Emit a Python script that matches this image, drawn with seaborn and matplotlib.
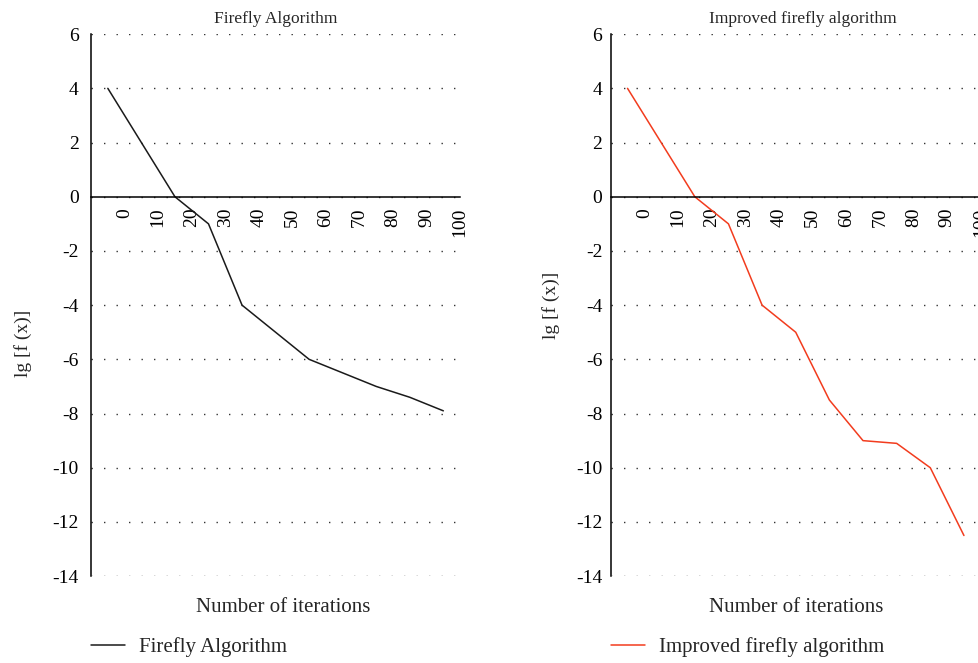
import matplotlib
matplotlib.use("Agg")
import matplotlib.pyplot as plt
import pandas as pd
import seaborn as sns

# convergence curves (x = plotted iteration position)
fa_iter = [-5, 15, 25, 35, 55, 75, 85, 95]
fa_value = [4, 0, -1, -4, -6, -7, -7.4, -7.9]

ifa_iter = [-5, 15, 25, 35, 45, 55, 65, 75, 85, 95]
ifa_value = [4, 0, -1, -4, -5, -7.5, -9, -9.1, -10, -12.5]

x_ticks = list(range(0, 101, 10))
y_ticks = list(range(-14, 7, 2))

sns.set_style("white")
plt.rcParams["font.family"] = ["Liberation Serif", "DejaVu Serif"]
plt.rcParams["axes.unicode_minus"] = False


def draw_panel(ax, x, y, color, name, ytick_pad, ylabel_pos, xlabel_x, title_x):
    df = pd.DataFrame({"iter": x, "value": y})
    sns.lineplot(data=df, x="iter", y="value", color=color, lw=1.1,
                 label=name, ax=ax)

    ax.set_xlim(-10, 100)
    ax.set_ylim(-14, 6)
    ax.set_xticks(x_ticks)
    ax.set_yticks(y_ticks)

    ax.spines["top"].set_visible(False)
    ax.spines["right"].set_visible(False)
    ax.spines["bottom"].set_position(("data", 0))
    for side in ("left", "bottom"):
        ax.spines[side].set_color("black")
        ax.spines[side].set_linewidth(1.1)

    ax.tick_params(axis="x", direction="in", length=5, width=1, pad=8,
                   labelsize=14, colors="black", labelrotation=90)
    ax.tick_params(axis="y", direction="in", length=5, width=1, pad=ytick_pad,
                   labelsize=14, colors="black")
    for lab in ax.get_xticklabels():
        lab.set_va("top")
        lab.set_ha("center")

    ax.yaxis.grid(True, linestyle=(0, (1, 8)), color="#333333", lw=1)
    ax.xaxis.grid(False)
    ax.set_axisbelow(True)

    ax.set_title(name, fontsize=12.5, pad=8, x=title_x)
    ax.set_xlabel("Number of iterations", fontsize=15)
    ax.xaxis.set_label_coords(xlabel_x, -0.041)
    ax.set_ylabel("lg [f (x)]", fontsize=14)
    ax.yaxis.set_label_coords(*ylabel_pos)

    ax.legend(loc="center left", bbox_to_anchor=(0, -0.131), frameon=False,
              fontsize=15, handlelength=1.65, handletextpad=0.65,
              borderaxespad=0, borderpad=0)


fig = plt.figure(figsize=(9.79, 6.63), dpi=100)
ax1 = fig.add_axes([0.093, 0.131, 0.377, 0.8175])
ax2 = fig.add_axes([0.6238, 0.131, 0.378, 0.8175])

draw_panel(ax1, fa_iter, fa_value, "#1a1a1a", "Firefly Algorithm",
           9, (-0.16, 0.43), 0.52, 0.5)
draw_panel(ax2, ifa_iter, ifa_value, "#f23c1e", "Improved firefly algorithm",
           6, (-0.137, 0.5), 0.5, 0.52)

fig.savefig("out.png", dpi=100)
